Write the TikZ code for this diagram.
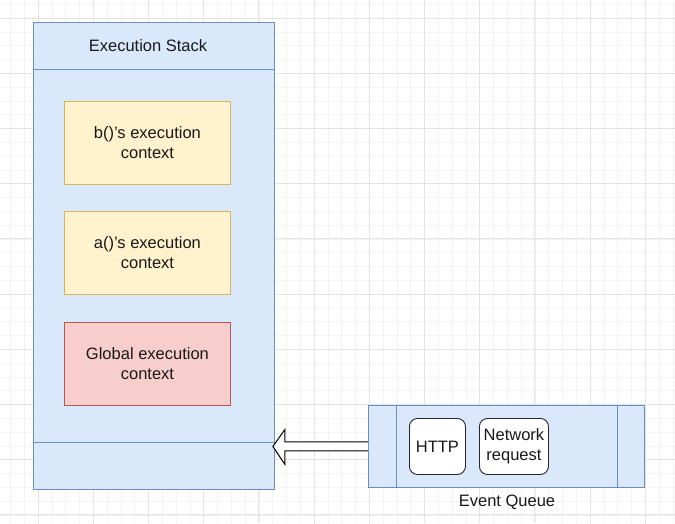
\documentclass[tikz,border=0pt]{standalone}
\usepackage{fontspec}
\setmainfont{Liberation Sans}
\usetikzlibrary{calc}
\definecolor{gridminor}{HTML}{F3F3F3}
\definecolor{gridmajor}{HTML}{E4E4E4}
\definecolor{bluefill}{HTML}{DAE8FC}
\definecolor{blueline}{HTML}{6C8EBF}
\definecolor{yelfill}{HTML}{FFF2CC}
\definecolor{yelline}{HTML}{D6B656}
\definecolor{redfill}{HTML}{F8CECC}
\definecolor{redline}{HTML}{B85450}
\tikzset{
  txt/.style={font=\fontsize{16.5}{20}\selectfont, text=black!90, align=center},
  panel/.style={draw=blueline, fill=bluefill, line width=0.9pt, inner sep=0pt, anchor=north west},
  ctx/.style={txt, line width=0.9pt, minimum width=166pt, minimum height=83pt, inner sep=0pt, anchor=north west},
  yctx/.style={ctx, draw=yelline, fill=yelfill},
  rctx/.style={ctx, draw=redline, fill=redfill},
  pill/.style={txt, draw=black!85, fill=white, line width=0.9pt, rounded corners=8pt, minimum height=56pt, inner sep=0pt, anchor=north west},
  blockarrow/.style={draw=black, fill=white, line width=1pt, line join=miter},
  divider/.style={draw=blueline, line width=0.9pt}
}
\begin{document}
\begin{tikzpicture}[x=1pt,y=-1pt]
\useasboundingbox (0,0) rectangle (675,523);
\fill[white] (0,0) rectangle (675,523);
% grid
\foreach \i in {-2,...,50} {
  \draw[gridminor, line width=0.6pt] ({38+13.8*\i},0) -- ({38+13.8*\i},523);
}
\foreach \i in {-2,...,39} {
  \draw[gridminor, line width=0.6pt] (0,{18+13.8*\i}) -- (675,{18+13.8*\i});
}
\foreach \i in {0,...,12} {
  \draw[gridmajor, line width=0.8pt] ({38+55.2*\i},0) -- ({38+55.2*\i},523);
}
\foreach \i in {0,...,9} {
  \draw[gridmajor, line width=0.8pt] (0,{18+55.2*\i}) -- (675,{18+55.2*\i});
}
% execution stack
\node[panel, minimum width=241pt, minimum height=467pt] (stack) at (33,22) {};
\draw[divider] (33,69) coordinate (h1) -- (274,69) coordinate (h2);
\draw[divider] (33,442) coordinate (f1) -- (274,442) coordinate (f2);
\node[txt] (title) at (148,46) {Execution Stack};
\node[yctx] (b) at (64,101) {b()'s execution\\context};
\node[yctx] (a) at (64,211) {a()'s execution\\context};
\node[rctx] (g) at (64,322) {Global execution\\context};
% event queue
\node[panel, minimum width=276pt, minimum height=82pt] (eq) at (368,405) {};
\draw[divider] (396,405) -- (396,487);
\draw[divider] (617,405) -- (617,487);
\node[pill, minimum width=56pt] (http) at (409,418) {HTTP};
\node[pill, minimum width=69pt] (net) at (479,418) {Network\\request};
\node[txt] (eqlabel) at (507,502) {Event Queue};
% block arrow
\path[blockarrow]
  ($(eq.west)+(0,-4.5)$) -- ($(stack.east |- eq.west)+(10,-4.5)$)
  -- ($(stack.east |- eq.west)+(10,-17)$)
  -- ($(stack.east |- eq.west)+(-2,0)$)
  -- ($(stack.east |- eq.west)+(10,18)$)
  -- ($(stack.east |- eq.west)+(10,4.5)$)
  -- ($(eq.west)+(0,4.5)$);
\end{tikzpicture}
\end{document}
